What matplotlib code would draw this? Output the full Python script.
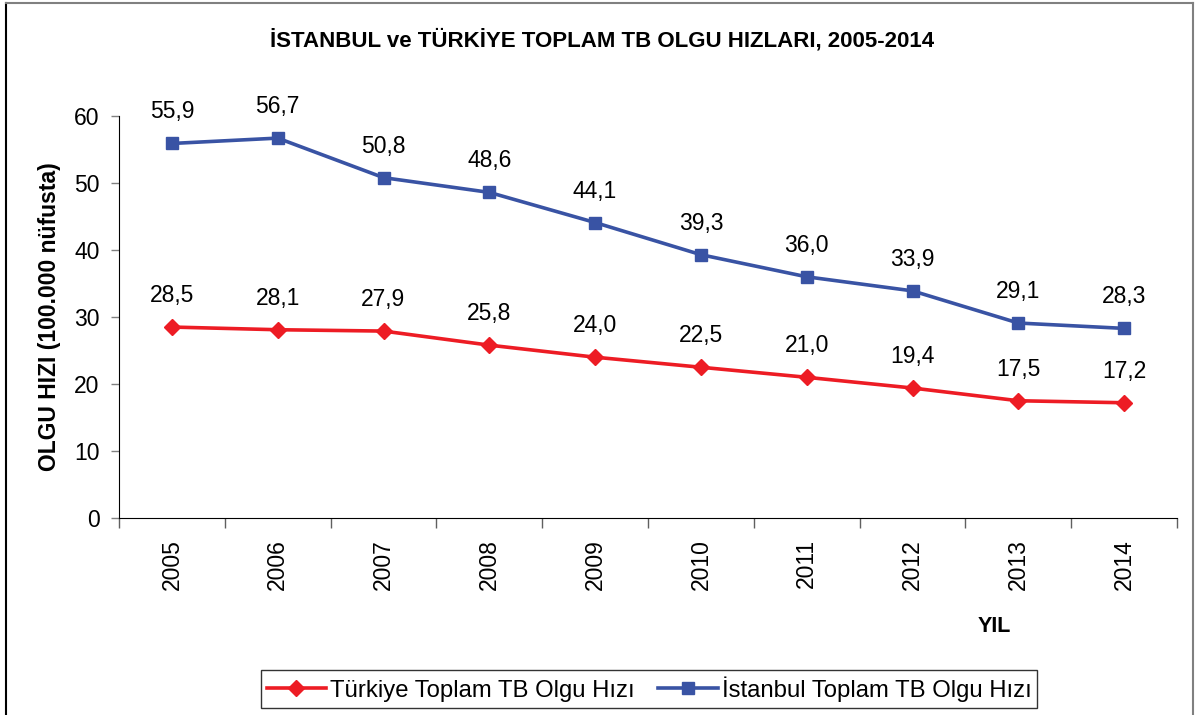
import matplotlib.pyplot as plt
from matplotlib.lines import Line2D

# Veriler
yillar = ['2005', '2006', '2007', '2008', '2009', '2010', '2011', '2012', '2013', '2014']
turkiye = [28.5, 28.1, 27.9, 25.8, 24.0, 22.5, 21.0, 19.4, 17.5, 17.2]
istanbul = [55.9, 56.7, 50.8, 48.6, 44.1, 39.3, 36.0, 33.9, 29.1, 28.3]
y_ticks = [0, 10, 20, 30, 40, 50, 60]

plt.rcParams['font.family'] = ['Liberation Sans', 'DejaVu Sans']

kirmizi = '#ED1C24'
mavi = '#3953A4'

fig = plt.figure(figsize=(11.95, 7.15), dpi=100)
ax = fig.add_axes([119 / 1195, 1 - 518 / 715, 1058 / 1195, 402 / 715])

x = list(range(len(yillar)))
ax.plot(x, turkiye, color=kirmizi, lw=2.6, marker='D', markersize=8.5,
        label='Türkiye Toplam TB Olgu Hızı')
ax.plot(x, istanbul, color=mavi, lw=2.6, marker='s', markersize=8,
        label='İstanbul Toplam TB Olgu Hızı')

# Değer etiketleri (virgüllü ondalık)
for xi, v in zip(x, turkiye):
    ax.annotate(f'{v:.1f}'.replace('.', ','), (xi, v), xytext=(0, 18),
                textcoords='offset points', ha='center', va='baseline', fontsize=16.5)
for xi, v in zip(x, istanbul):
    ax.annotate(f'{v:.1f}'.replace('.', ','), (xi, v), xytext=(0, 18),
                textcoords='offset points', ha='center', va='baseline', fontsize=16.5)

ax.set_xlim(-0.5, len(yillar) - 0.5)
ax.set_ylim(0, 60)
ax.set_yticks(y_ticks)
ax.tick_params(axis='y', length=6, width=1, color='#808080', pad=8, labelsize=16.5)

ax.set_xticks(x)
ax.set_xticklabels(yillar, rotation=90, fontsize=16.5)
ax.set_xticks([i - 0.5 for i in range(len(yillar) + 1)], minor=True)
ax.tick_params(axis='x', which='major', length=0, pad=15)
ax.tick_params(axis='x', which='minor', length=7, width=1, color='#606060', direction='out')

ax.spines['top'].set_visible(False)
ax.spines['right'].set_visible(False)
ax.spines['left'].set_color('black')
ax.spines['bottom'].set_color('black')

ax.set_ylabel('OLGU HIZI (100.000 nüfusta)', fontsize=16.5, fontweight='bold')
ax.yaxis.set_label_coords(-0.055, 0.5)

fig.text(602 / 1195, 1 - 40 / 715, 'İSTANBUL ve TÜRKİYE TOPLAM TB OLGU HIZLARI, 2005-2014',
         ha='center', va='center', fontsize=16, fontweight='bold')
fig.text(994 / 1195, 1 - 626 / 715, 'YIL', ha='center', va='center',
         fontsize=15.5, fontweight='bold')

leg = fig.legend(loc='center', bbox_to_anchor=(649 / 1195, 1 - 689 / 715), ncol=2,
                 frameon=True, fancybox=False, edgecolor='black', handlelength=2.5,
                 handletextpad=0.15, columnspacing=1.0, borderpad=0.25,
                 borderaxespad=0, fontsize=17.2)
leg.get_frame().set_linewidth(1.0)

# Dış çerçeve
fig.add_artist(Line2D([6 / 1195, 6 / 1195], [0, 1 - 3 / 715], color='black', lw=1.5,
                      transform=fig.transFigure))
fig.add_artist(Line2D([6 / 1195, 1193 / 1195], [1 - 3 / 715, 1 - 3 / 715], color='#808080',
                      lw=1.5, transform=fig.transFigure))
fig.add_artist(Line2D([1193 / 1195, 1193 / 1195], [0, 1 - 3 / 715], color='#808080', lw=1.5,
                      transform=fig.transFigure))

fig.savefig('out.png', dpi=100)
